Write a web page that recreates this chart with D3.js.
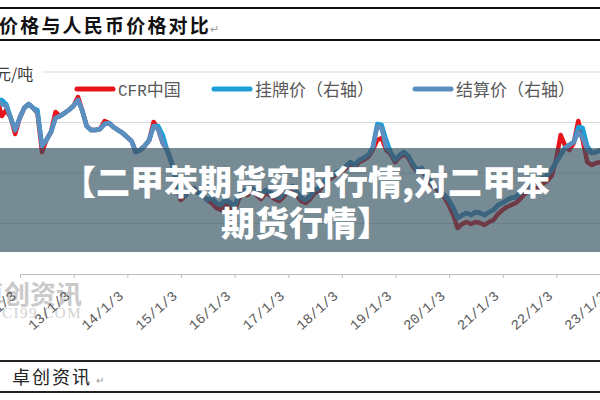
<!DOCTYPE html>
<html>
<head>
<meta charset="utf-8">
<script src="https://cdn.jsdelivr.net/npm/d3@7"></script>
<style>
body { margin: 0; background: #fff; }
svg { display: block; }
</style>
</head>
<body>
<svg id="chart" width="600" height="400"></svg>
<script>
// monthly points, 2011-08 .. 2022-11
var months = d3.timeMonth.range(new Date(2011, 7, 1), new Date(2022, 11, 1));
var yearTicks = [2012, 2013, 2014, 2015, 2016, 2017, 2018, 2019, 2020, 2021, 2022, 2023];
var gridValues = [4000, 8000, 12000, 16000];

// CFR中国 (left axis)
var cfrChina = [
    13780, 12510, 12990, 12360, 11090, 12360, 13150, 13460, 13150, 12750, 9660, 10610,
    11250, 12830, 12510, 12750, 12990, 13310, 14020, 12990, 11720, 11400, 11400, 11480,
    12120, 11960, 11640, 11400, 11170, 10850, 10530, 9660, 9820, 10140, 10610, 12040,
    11480, 10380, 9820, 8790, 7440, 5860, 6180, 6650, 6810, 6420, 6260, 5860,
    5620, 5230, 5070, 5460, 5310, 4910, 5940, 6410, 6250, 6570, 6250, 5940,
    6410, 6250, 5940, 5780, 6100, 6570, 6730, 6250, 5780, 5620, 5940, 6410,
    6570, 7130, 7440, 7680, 7920, 8080, 8390, 8710, 8470, 8870, 9030, 9260,
    9820, 10610, 10770, 9820, 9500, 8870, 9260, 9500, 9190, 8550, 8080, 8240,
    7680, 7130, 6810, 6490, 6100, 5460, 4670, 3640, 3960, 4120, 3960, 4120,
    4040, 3880, 4120, 4280, 4750, 5070, 5310, 5460, 5620, 5940, 6340, 6570,
    6730, 6810, 7130, 7370, 7760, 9030, 11010, 10220, 9820, 10380, 12120, 10610,
    8870, 8630, 8790, 8870
];
// 挂牌价 (right axis)
var listPrice = [
    13780, 13780, 13460, 12360, 11400, 12360, 13150, 13460, 13150, 12990, 10140, 10610,
    11250, 12360, 12510, 12750, 12990, 13310, 13780, 12990, 11720, 11400, 11400, 11480,
    11880, 11960, 11640, 11400, 11170, 10850, 10530, 9660, 9820, 10140, 10610, 11720,
    11720, 11010, 9820, 8790, 7440, 6260, 6180, 6650, 6810, 6420, 6260, 5860,
    6020, 5620, 5460, 5860, 5700, 5310, 6180, 6650, 6490, 6810, 6490, 6180,
    6650, 6490, 6180, 6020, 6340, 6810, 6970, 6490, 6020, 5860, 6180, 6650,
    6810, 7290, 7600, 7840, 8080, 8240, 8550, 8870, 8630, 9030, 9190, 9420,
    9980, 11880, 11800, 10610, 9660, 9030, 9420, 9660, 9350, 8710, 8240, 8400,
    7840, 7290, 6970, 6650, 6260, 5860, 5230, 4440, 4670, 4830, 4670, 4910,
    4830, 4670, 4910, 5070, 5460, 5620, 5860, 6020, 6100, 6420, 6810, 7050,
    7210, 7290, 7600, 7840, 8240, 8870, 9420, 9980, 10220, 10450, 11640, 11560,
    10140, 9580, 9660, 9820
];
// 结算价 (right axis)
var settlePrice = [
    13780, 13460, 13310, 12360, 11400, 12360, 13150, 13460, 13150, 12750, 10140, 10610,
    11250, 12360, 12510, 12750, 12990, 13310, 13780, 12990, 11720, 11400, 11400, 11480,
    11880, 11960, 11640, 11400, 11170, 10850, 10530, 9660, 9820, 10140, 10610, 11720,
    11480, 10380, 9820, 8790, 7440, 6260, 6180, 6650, 6810, 6420, 6260, 5860,
    6020, 5620, 5460, 5860, 5700, 5310, 6180, 6650, 6490, 6810, 6490, 6180,
    6650, 6490, 6180, 6020, 6340, 6810, 6970, 6490, 6020, 5860, 6180, 6650,
    6810, 7290, 7600, 7840, 8080, 8240, 8550, 8870, 8630, 9030, 9190, 9420,
    9980, 11720, 11560, 9980, 9660, 9030, 9420, 9660, 9350, 8710, 8240, 8400,
    7840, 7290, 6970, 6650, 6260, 5860, 5230, 4440, 4670, 4830, 4670, 4910,
    4830, 4670, 4910, 5070, 5460, 5620, 5860, 6020, 6100, 6420, 6810, 7050,
    7210, 7290, 7600, 7840, 8240, 8870, 9420, 9980, 10220, 10450, 11250, 10770,
    9820, 9580, 9660, 9820
];

var seriesNames = ["CFR中国", "挂牌价（右轴）", "结算价（右轴）"];
var seriesColors = ["#e8141c", "#1e9fda", "#5b8fbf"];

var cjk = "'Noto Sans CJK SC', sans-serif";
var svg = d3.select("#chart");

var x = d3.scaleTime()
    .domain([new Date(2012, 0, 3), new Date(2023, 0, 3)])
    .range([20, 610]);
var yLeft = d3.scaleLinear().domain([0, 16000]).range([274, 72]);
var yRight = d3.scaleLinear().domain([0, 16000]).range([274, 72]);

svg.append("rect").attr("width", 600).attr("height", 400).attr("fill", "#fff");

// header
svg.append("line").attr("x1", 0).attr("x2", 600).attr("y1", 8).attr("y2", 8)
    .attr("stroke", "#111").attr("stroke-width", 2);
svg.append("line").attr("x1", 0).attr("x2", 600).attr("y1", 40).attr("y2", 40)
    .attr("stroke", "#111").attr("stroke-width", 2);
svg.append("text").attr("x", -1).attr("y", 33)
    .style("font-family", cjk).style("font-weight", "bold").style("font-size", "19px")
    .style("letter-spacing", "2.2px").attr("fill", "#111")
    .text("价格与人民币价格对比");
svg.append("text").attr("x", 210).attr("y", 33)
    .style("font-family", cjk).style("font-size", "11px").attr("fill", "#999")
    .text("↵");

// gridlines
svg.selectAll(".grid").data(gridValues).enter().append("line")
    .attr("class", "grid")
    .attr("x1", d => d == 16000 ? 42 : 0).attr("x2", 600)
    .attr("y1", d => yLeft(d)).attr("y2", d => yLeft(d))
    .attr("stroke", "#d9d9d9").attr("stroke-width", 1);

svg.append("text").attr("x", -5).attr("y", 80)
    .style("font-family", cjk).style("font-size", "16px").attr("fill", "#404040")
    .text("元/吨");

// watermark
svg.append("text").attr("x", 82).attr("y", 304).attr("text-anchor", "end")
    .style("font-family", cjk).style("font-weight", "bold").style("font-size", "26px")
    .attr("fill", "#cacaca").text("卓创资讯");
svg.append("text").attr("x", 82).attr("y", 318).attr("text-anchor", "end")
    .style("font-family", "'Liberation Serif', serif").style("font-size", "15px")
    .style("letter-spacing", "1.5px").attr("fill", "#d2d2d2").text("SCI99.COM");

// x axis
var tickDates = yearTicks.map(yr => new Date(yr, 0, 3));
var xAxis = d3.axisBottom(x).tickValues(tickDates).tickSize(4).tickFormat("");
var gx = svg.append("g").attr("transform", "translate(0,274)").call(xAxis);
gx.select(".domain").attr("stroke", "#bfbfbf");
gx.selectAll(".tick line").attr("stroke", "#bfbfbf");

svg.selectAll(".xlabel").data(tickDates).enter().append("text")
    .attr("class", "xlabel")
    .attr("text-anchor", "end")
    .attr("transform", d => "translate(" + (x(d) - 3) + ",297) rotate(-42)")
    .style("font-family", "'Liberation Mono', monospace").style("font-size", "14px")
    .attr("fill", "#595959")
    .text(d3.timeFormat("%y/%-m/%-d"));

// lines
var rows = months.map((m, i) => ({date: m, cfr: cfrChina[i], list: listPrice[i], settle: settlePrice[i]}));

function lineFor(key, scale) {
    return d3.line().x(d => x(d.date)).y(d => scale(d[key]));
}

svg.append("path").datum(rows).attr("d", lineFor("cfr", yLeft))
    .attr("fill", "none").attr("stroke", seriesColors[0]).attr("stroke-width", 4.5)
    .attr("stroke-linejoin", "round");
svg.append("path").datum(rows).attr("d", lineFor("list", yRight))
    .attr("fill", "none").attr("stroke", seriesColors[1]).attr("stroke-width", 4.5)
    .attr("stroke-linejoin", "round");
svg.append("path").datum(rows).attr("d", lineFor("settle", yRight))
    .attr("fill", "none").attr("stroke", seriesColors[2]).attr("stroke-width", 4.5)
    .attr("stroke-linejoin", "round");

// legend
var legendX = [75, 212, 413];
var legend = svg.selectAll(".legend").data(seriesNames).enter().append("g")
    .attr("class", "legend")
    .attr("transform", (d, i) => "translate(" + legendX[i] + ",89)");
legend.append("line").attr("x1", 2).attr("x2", 38).attr("y1", 0).attr("y2", 0)
    .attr("stroke", (d, i) => seriesColors[i]).attr("stroke-width", 5)
    .attr("stroke-linecap", "round");
var lt = legend.append("text").attr("x", 43).attr("y", 7)
    .style("font-family", cjk).style("font-size", "17px").attr("fill", "#595959");
lt.each(function(d) {
    var t = d3.select(this);
    if (d.indexOf("CFR") == 0) {
        t.append("tspan").style("font-family", "'Liberation Mono', monospace")
            .style("font-size", "16px").text("CFR");
        t.append("tspan").text(d.slice(3));
    } else {
        t.text(d);
    }
});

// banner overlay
svg.append("rect").attr("x", 0).attr("y", 148).attr("width", 600).attr("height", 104)
    .attr("fill", "#2e4d5c").attr("opacity", 0.65);
var bannerLines = ["【二甲苯期货实时行情,对二甲苯", "期货行情】"];
svg.selectAll(".banner").data(bannerLines).enter().append("text")
    .attr("class", "banner")
    .attr("x", 306).attr("y", (d, i) => 195 + i * 41)
    .attr("text-anchor", "middle")
    .style("font-family", cjk).style("font-weight", "900").style("font-size", "34px")
    .attr("fill", "#fff")
    .text(d => d);

// footer
svg.append("line").attr("x1", 0).attr("x2", 600).attr("y1", 361).attr("y2", 361)
    .attr("stroke", "#222").attr("stroke-width", 2);
svg.append("line").attr("x1", 0).attr("x2", 600).attr("y1", 392).attr("y2", 392)
    .attr("stroke", "#222").attr("stroke-width", 2);
svg.append("text").attr("x", 12).attr("y", 384)
    .style("font-family", cjk).style("font-size", "18px").style("letter-spacing", "2px")
    .attr("fill", "#222")
    .text("卓创资讯");
svg.append("text").attr("x", 96).attr("y", 384)
    .style("font-family", cjk).style("font-size", "10px").attr("fill", "#999")
    .text("↵");
</script>
</body>
</html>
